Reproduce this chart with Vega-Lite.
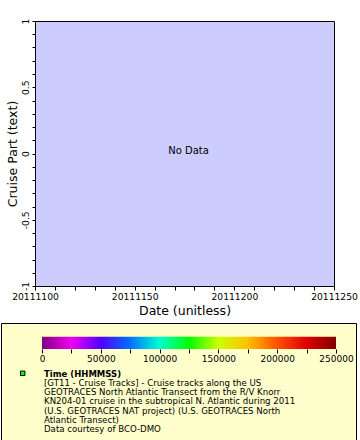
{
  "$schema": "https://vega.github.io/schema/vega-lite/v6.json",
  "padding": {"left": 0, "top": 17, "right": 0, "bottom": 0},
  "background": "white",
  "spacing": 4,
  "config": {
    "font": "DejaVu Sans",
    "view": {"stroke": "black", "strokeWidth": 1},
    "axis": {
      "grid": false,
      "domainColor": "black",
      "tickColor": "black",
      "labelColor": "black",
      "titleColor": "black",
      "titleFontWeight": "normal",
      "labelOverlap": false,
      "labelFlush": false,
      "labelBound": false,
      "tickCount": 100
    }
  },
  "vconcat": [
    {
      "spacing": 3,
      "hconcat": [
        {
          "width": 1,
          "height": 1,
          "view": {"stroke": null},
          "data": {"values": []},
          "mark": "point",
          "encoding": {}
        },
        {
          "width": 299,
          "height": 265,
          "view": {"fill": "#ccccff", "stroke": "black"},
          "layer": [
            {
              "data": {"name": "cruise_tracks", "values": []},
              "mark": {"type": "point", "filled": true},
              "encoding": {
                "x": {
                  "field": "date",
                  "type": "quantitative",
                  "scale": {"domain": [20111100, 20111250], "nice": false, "zero": false},
                  "axis": {
                    "title": "Date (unitless)",
                    "titleFontSize": 12.5,
                    "titlePadding": 3,
                    "labelFontSize": 9.2,
                    "labelPadding": 2,
                    "labelOverlap": false,
                    "labelFlush": false,
                    "tickSize": 4,
                    "tickCount": 100,
                    "values": [20111100, 20111110, 20111120, 20111130, 20111140, 20111150, 20111160, 20111170, 20111180, 20111190, 20111200, 20111210, 20111220, 20111230, 20111240, 20111250],
                    "labelExpr": "datum.value % 50 == 0 ? '' + datum.value : ''"
                  }
                },
                "y": {
                  "field": "cruise_part",
                  "type": "quantitative",
                  "scale": {"domain": [-1, 1], "nice": false, "zero": false},
                  "axis": {
                    "title": "Cruise Part (text)",
                    "titleFontSize": 12.5,
                    "titlePadding": 2,
                    "labelFontSize": 9.2,
                    "labelPadding": 2,
                    "labelOverlap": false,
                    "labelFlush": false,
                    "tickSize": 3,
                    "tickCount": 100,
                    "labelAngle": 270,
                    "labelAlign": "center",
                    "labelBaseline": "bottom",
                    "values": [-1, -0.9, -0.8, -0.7, -0.6, -0.5, -0.4, -0.3, -0.2, -0.1, 0, 0.1, 0.2, 0.3, 0.4, 0.5, 0.6, 0.7, 0.8, 0.9, 1],
                    "labelExpr": "indexof([-1, -0.5, 0, 0.5, 1], datum.value) >= 0 ? '' + datum.value : ''"
                  }
                }
              }
            },
            {
              "data": {"values": [{"message": "No Data"}]},
              "mark": {"type": "text", "fontSize": 10, "color": "black", "align": "center", "baseline": "middle", "dx": 4, "dy": -3},
              "encoding": {
                "x": {"datum": 20111175, "type": "quantitative"},
                "y": {"datum": 0, "type": "quantitative"},
                "text": {"field": "message", "type": "nominal"}
              }
            }
          ]
        }
      ]
    },
    {
      "width": 355,
      "height": 117,
      "view": {"fill": "#ffffcc", "stroke": "black"},
      "layer": [
        {
          "data": {"values": [{"time_from": 0, "time_to": 250000}]},
          "mark": {
            "type": "rect",
            "fill": {
              "gradient": "linear",
              "x1": 0, "y1": 0, "x2": 1, "y2": 0,
              "stops": [
                {"offset": 0, "color": "#800080"},
                {"offset": 0.1, "color": "#f000f0"},
                {"offset": 0.2, "color": "#5000ff"},
                {"offset": 0.3, "color": "#0070ff"},
                {"offset": 0.4, "color": "#00ffd0"},
                {"offset": 0.5, "color": "#00ff00"},
                {"offset": 0.6, "color": "#ccff00"},
                {"offset": 0.7, "color": "#ffc000"},
                {"offset": 0.8, "color": "#ff5000"},
                {"offset": 0.9, "color": "#e00000"},
                {"offset": 1, "color": "#800000"}
              ]
            }
          },
          "encoding": {
            "x": {
              "field": "time_from",
              "type": "quantitative",
              "scale": {"domain": [-34864, 267007], "nice": false, "zero": false},
              "axis": {
                "orient": "bottom",
                "offset": -91,
                "domain": false,
                "title": null,
                "tickSize": 4,
                "tickCount": 100,
                "labelFontSize": 9,
                "labelPadding": 1,
                "labelOverlap": false,
                "labelFlush": false,
                "values": [0, 25000, 50000, 75000, 100000, 125000, 150000, 175000, 200000, 225000, 250000],
                "labelExpr": "datum.value % 50000 == 0 ? '' + datum.value : ''"
              }
            },
            "x2": {"field": "time_to"},
            "y": {
              "datum": -5.62,
              "type": "quantitative",
              "scale": {"domain": [-7.54, 8.71], "reverse": true, "nice": false, "zero": false},
              "axis": null
            },
            "y2": {"datum": -3.93}
          }
        },
        {
          "data": {"values": [{"series": "Time (HHMMSS)"}]},
          "mark": {"type": "square", "filled": true, "color": "#00ff00", "stroke": "black", "strokeWidth": 1, "size": 20, "opacity": 1},
          "encoding": {
            "x": {"datum": -16400, "type": "quantitative"},
            "y": {"datum": -0.55, "type": "quantitative"}
          }
        },
        {
          "data": {"values": [{"series": "Time (HHMMSS)"}]},
          "mark": {"type": "text", "fontSize": 8.5, "fontWeight": "bold", "align": "left", "baseline": "alphabetic", "dx": 2, "color": "black"},
          "encoding": {
            "x": {"datum": 0, "type": "quantitative"},
            "y": {"datum": 0, "type": "quantitative"},
            "text": {"field": "series", "type": "nominal"}
          }
        },
        {
          "data": {"values": [{"description": ["[GT11 - Cruise Tracks] - Cruise tracks along the US", "GEOTRACES North Atlantic Transect from the R/V Knorr", "KN204-01 cruise in the subtropical N. Atlantic during 2011", "(U.S. GEOTRACES NAT project) (U.S. GEOTRACES North", "Atlantic Transect)", "Data courtesy of BCO-DMO"]}]},
          "mark": {"type": "text", "fontSize": 8.6, "lineHeight": 9.2, "align": "left", "baseline": "alphabetic", "dx": 2, "color": "black"},
          "encoding": {
            "x": {"datum": 0, "type": "quantitative"},
            "y": {"datum": 1.2, "type": "quantitative"},
            "text": {"field": "description", "type": "nominal"}
          }
        }
      ]
    }
  ]
}
